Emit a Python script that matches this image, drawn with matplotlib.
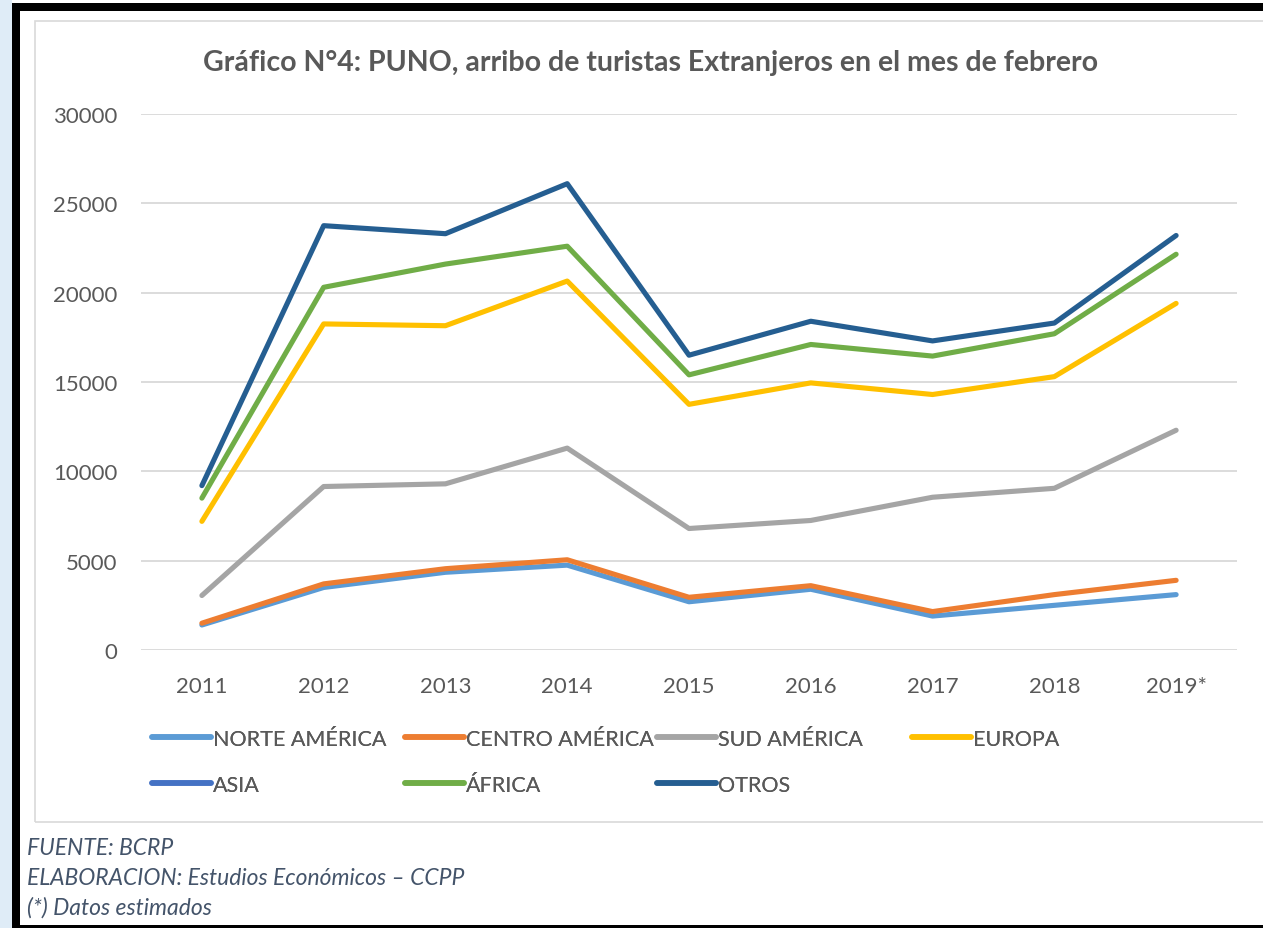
import matplotlib
matplotlib.use("Agg")
import matplotlib.pyplot as plt
from matplotlib.patches import Rectangle
from matplotlib.lines import Line2D

W, H = 1263, 929

years = ["2011", "2012", "2013", "2014", "2015", "2016", "2017", "2018", "2019*"]
norte_america = [1400, 3500, 4350, 4750, 2700, 3400, 1900, 2500, 3100]
centro_america = [1500, 3700, 4550, 5050, 2950, 3600, 2150, 3100, 3900]
sud_america = [3050, 9150, 9300, 11300, 6800, 7250, 8550, 9050, 12300]
europa = [7200, 18250, 18150, 20650, 13750, 14950, 14300, 15300, 19400]
asia = []  # only shown in the legend
africa = [8500, 20300, 21600, 22600, 15400, 17100, 16450, 17700, 22150]
otros = [9200, 23750, 23300, 26100, 16500, 18400, 17300, 18300, 23200]

series = [
    ("NORTE AMÉRICA", norte_america, "#5B9BD5"),
    ("CENTRO AMÉRICA", centro_america, "#ED7D31"),
    ("SUD AMÉRICA", sud_america, "#A5A5A5"),
    ("EUROPA", europa, "#FFC000"),
    ("ASIA", asia, "#4472C4"),
    ("ÁFRICA", africa, "#70AD47"),
    ("OTROS", otros, "#255E91"),
]

plt.rcParams['font.family'] = ['Lato', 'DejaVu Sans']
TXT = '#595959'


def fx(x):
    return x / W


def fy(y):
    return 1 - y / H


fig = plt.figure(figsize=(W / 100, H / 100), dpi=100)
fig.patch.set_facecolor('white')

# background strip, black frame and chart border
fig.add_artist(Rectangle((0, 0), fx(12), 1, transform=fig.transFigure,
                         facecolor='#dfecf7', edgecolor='none', zorder=0))
fig.add_artist(Rectangle((fx(12), fy(12)), 1, 8 / H, transform=fig.transFigure,
                         facecolor='black', edgecolor='none', zorder=1))
fig.add_artist(Rectangle((fx(12), 0), 8 / W, fy(4), transform=fig.transFigure,
                         facecolor='black', edgecolor='none', zorder=1))
fig.add_artist(Rectangle((fx(12), 0), 1, 3 / H, transform=fig.transFigure,
                         facecolor='black', edgecolor='none', zorder=1))
fig.add_artist(Rectangle((fx(35), fy(823)), 1, (823 - 22) / H, transform=fig.transFigure,
                         facecolor='none', edgecolor='#d9d9d9', linewidth=1.2, zorder=1))

ax = fig.add_axes([fx(141), fy(651), (1237 - 141) / W, (651 - 115) / H])
ax.set_facecolor('none')

x = list(range(len(years)))
for name, vals, col in series:
    ax.plot(x[:len(vals)], vals, color=col, linewidth=3.7,
            solid_capstyle='round', solid_joinstyle='round', label=name, zorder=3)

ax.set_xlim(-0.5, len(years) - 0.5)
ax.set_ylim(0, 30000)
ax.set_yticks(range(0, 30001, 5000))
ax.set_xticks(x)
ax.set_xticklabels(years)
ax.grid(axis='y', color='#d9d9d9', linewidth=1.3, zorder=0)
for s in ax.spines.values():
    s.set_visible(False)
ax.tick_params(length=0, labelsize=16, labelcolor=TXT)
ax.tick_params(axis='y', pad=17)
ax.tick_params(axis='x', pad=19)

fig.text(fx(651), fy(63), "Gráfico N°4: PUNO, arribo de turistas Extranjeros en el mes de febrero",
         ha='center', va='center', fontsize=20.5, fontweight='bold', color=TXT)

# legend, one entry at a time to keep Excel's even column spacing
leg_pos = {
    "NORTE AMÉRICA": (152, 740), "CENTRO AMÉRICA": (405, 740),
    "SUD AMÉRICA": (657, 740), "EUROPA": (912, 740),
    "ASIA": (152, 786), "ÁFRICA": (405, 786), "OTROS": (657, 786),
}
for name, vals, col in series:
    px, py = leg_pos[name]
    h = Line2D([], [], color=col, linewidth=4, solid_capstyle='round')
    leg = fig.legend(handles=[h], labels=[name], loc='center left',
                     bbox_to_anchor=(fx(px), fy(py)), frameon=False,
                     borderpad=0, borderaxespad=0, handlelength=2.75,
                     handletextpad=0.1, fontsize=15.5, labelcolor=TXT)
    fig.add_artist(leg)

notes = ["FUENTE: BCRP", "ELABORACION: Estudios Económicos – CCPP", "(*) Datos estimados"]
for i, t in enumerate(notes):
    fig.text(fx(27), fy(849 + i * 29.5), t, ha='left', va='center', fontsize=16.5,
             style='italic', color='#44546A')

fig.savefig("out.png", dpi=100)
